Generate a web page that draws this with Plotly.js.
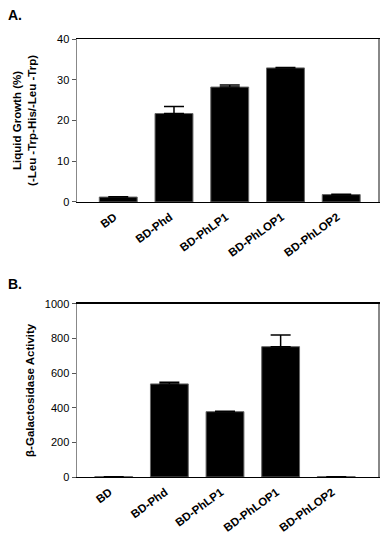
<!DOCTYPE html>
<html>
<head>
<meta charset="utf-8">
<script src="https://cdn.plot.ly/plotly-3.0.1.min.js"></script>
<style>html,body{margin:0;padding:0;background:#fff;}</style>
</head>
<body>
<div id="chart" style="width:387px;height:539px;"></div>
<script>
const categories = ["BD", "BD-Phd", "BD-PhLP1", "BD-PhLOP1", "BD-PhLOP2"];
const growthValues = [1.2, 21.7, 28.2, 32.9, 1.8];
const growthErrors = [0.1, 1.7, 0.5, 0.1, 0.1];
const galValues = [2, 537, 377, 752, 2];
const galErrors = [0, 10, 2, 67, 0];
const growthTicks = [0, 10, 20, 30, 40];
const galTicks = [0, 200, 400, 600, 800, 1000];

const idx = categories.map((c, i) => i);
const fontFam = "Liberation Sans, Arial, Helvetica, sans-serif";

const barStyle = {color: "#000", line: {color: "#666", width: 1}};
const errStyle = (arr) => ({type: "data", symmetric: false, array: arr, arrayminus: arr.map(() => 0), color: "#000", thickness: 1.5, width: 10});

const traces = [
  {type: "bar", x: idx, y: growthValues, xaxis: "x", yaxis: "y", width: 0.68, marker: barStyle, error_y: errStyle(growthErrors), hoverinfo: "none"},
  {type: "bar", x: idx, y: galValues, xaxis: "x2", yaxis: "y2", width: 0.68, marker: barStyle, error_y: errStyle(galErrors), hoverinfo: "none"}
];

const xCommon = {
  tickmode: "array", tickvals: idx, ticktext: categories, tickangle: -36,
  tickfont: {family: fontFam, size: 11.5, color: "#000", weight: "bold"},
  ticks: "", showgrid: false, zeroline: false, ticklabelshift: -4, ticklabelstandoff: 3,
  showline: true, linecolor: "#000", linewidth: 1.2, mirror: true
};
const yCommon = {
  ticks: "outside", ticklen: 4, tickcolor: "#555", tickwidth: 1,
  tickfont: {family: fontFam, size: 11, color: "#000"},
  showgrid: false, zeroline: false,
  showline: true, linecolor: "#888", linewidth: 1.5, mirror: true
};

const layout = {
  width: 387, height: 539,
  margin: {l: 77, r: 9, t: 39, b: 62},
  paper_bgcolor: "#fff", plot_bgcolor: "#fff",
  showlegend: false,
  bargap: 0.3,
  font: {family: fontFam, color: "#000"},
  xaxis: Object.assign({}, xCommon, {range: [-0.74, 4.66], anchor: "y", domain: [0, 1]}),
  yaxis: Object.assign({}, yCommon, {range: [0, 40], tickvals: growthTicks, domain: [0.628, 1], anchor: "x",
    title: {text: "Liquid Growth (%)<br>(-Leu -Trp-His/-Leu -Trp)", font: {family: fontFam, size: 11.5, color: "#000", weight: "bold"}, standoff: 18}}),
  xaxis2: Object.assign({}, xCommon, {range: [-0.66, 4.75], anchor: "y2", domain: [0, 1]}),
  yaxis2: Object.assign({}, yCommon, {range: [0, 1000], tickvals: galTicks, domain: [0, 0.3957], anchor: "x2",
    title: {text: "β-Galactosidase Activity", font: {family: fontFam, size: 11.5, color: "#000", weight: "bold"}, standoff: 8}}),
  annotations: [
    {text: "A.", xref: "paper", yref: "paper", x: -0.235, y: 1.055, xanchor: "left", yanchor: "middle", showarrow: false,
     font: {family: fontFam, size: 14, color: "#000", weight: "bold"}},
    {text: "B.", xref: "paper", yref: "paper", x: -0.235, y: 0.44, xanchor: "left", yanchor: "middle", showarrow: false,
     font: {family: fontFam, size: 14, color: "#000", weight: "bold"}}
  ]
};

Plotly.newPlot("chart", traces, layout, {staticPlot: true, displayModeBar: false});
</script>
</body>
</html>
